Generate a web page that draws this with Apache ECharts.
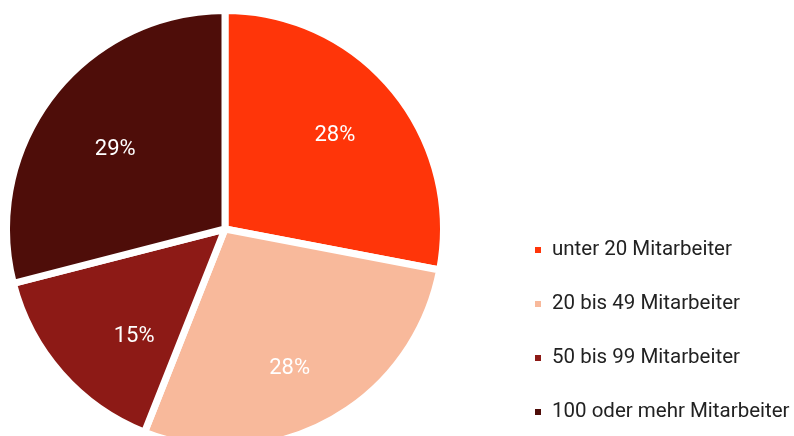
<!DOCTYPE html>
<html>
<head>
<meta charset="utf-8">
<script src="https://cdn.jsdelivr.net/npm/echarts@6/dist/echarts.min.js"></script>
<style>
html,body{margin:0;padding:0;background:#fff;}
#chart{width:794px;height:436px;}
</style>
</head>
<body>
<div id="chart"></div>
<script>
const categories = ['unter 20 Mitarbeiter', '20 bis 49 Mitarbeiter', '50 bis 99 Mitarbeiter', '100 oder mehr Mitarbeiter'];
const values = [28, 28, 15, 29];
const colors = ['#FF3509', '#F8B99B', '#8D1A16', '#4E0D09'];

// style-only nudges for the inside labels
const labelNudges = [[-3, 0], [-6, 11], [19, 11], [6, 10]];

const data = categories.map((c, i) => ({ name: c, value: values[i], itemStyle: { color: colors[i] } }));
const labelData = categories.map((c, i) => ({ name: c, value: values[i], label: { offset: labelNudges[i] } }));

const chart = echarts.init(document.getElementById('chart'), null, { renderer: 'canvas' });
chart.setOption({
  animation: false,
  backgroundColor: '#ffffff',
  legend: {
    orient: 'vertical',
    left: 533,
    top: 239.5,
    padding: 0,
    itemWidth: 8,
    itemHeight: 8,
    itemGap: 33,
    icon: 'rect',
    data: categories,
    textStyle: { fontFamily: 'Roboto', fontSize: 20.5, color: '#222222', lineHeight: 20, padding: [1, 0, 0, 5] }
  },
  series: [
    {
      type: 'pie',
      center: [225, 229],
      radius: [0, 218.5],
      startAngle: 90,
      clockwise: true,
      data: data,
      itemStyle: { borderColor: '#ffffff', borderWidth: 7 },
      label: { show: false },
      labelLine: { show: false },
      emphasis: { disabled: true }
    },
    {
      type: 'pie',
      center: [225, 229],
      radius: [72, 215],
      startAngle: 90,
      clockwise: true,
      silent: true,
      data: labelData,
      itemStyle: { color: 'rgba(0,0,0,0)' },
      label: {
        show: true,
        position: 'inside',
        formatter: '{c}%',
        color: '#ffffff',
        fontFamily: 'Roboto',
        fontSize: 22
      },
      labelLine: { show: false },
      emphasis: { disabled: true }
    }
  ]
});
</script>
</body>
</html>
